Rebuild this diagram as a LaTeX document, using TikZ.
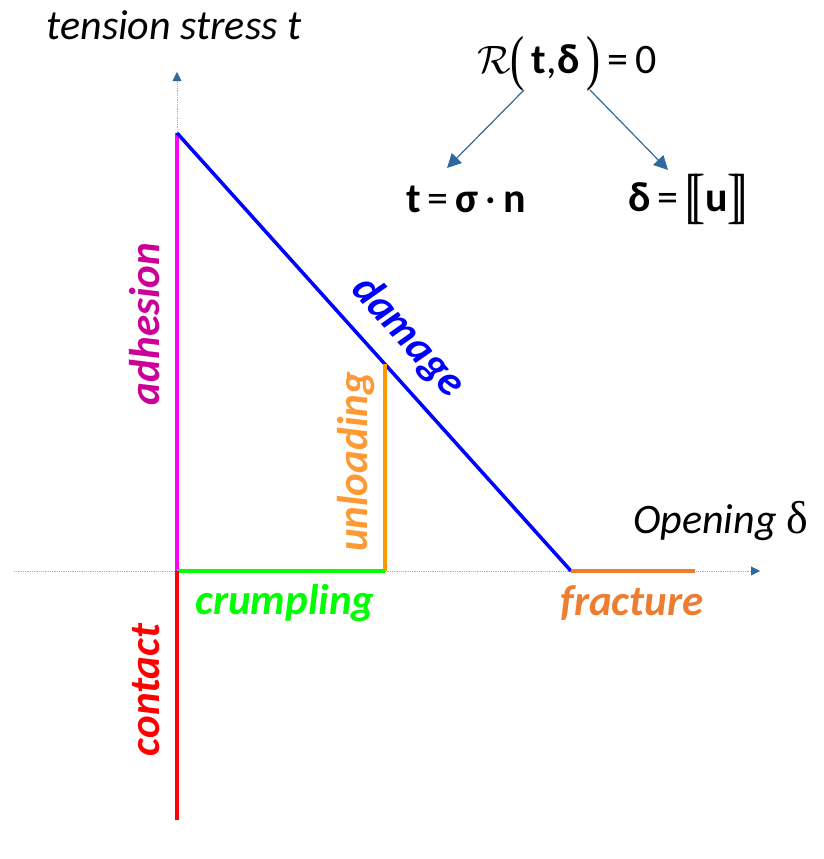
\documentclass[tikz,border=0pt]{standalone}
\usepackage{graphicx}
\usepackage{fontspec}
\setmainfont{Carlito}
\newfontfamily\delimfont{Liberation Serif}
\usetikzlibrary{arrows.meta}
\definecolor{axisline}{HTML}{9DB3CC}
\definecolor{axishead}{HTML}{2E6A9E}
\definecolor{adhline}{HTML}{FF00FF}
\definecolor{adhtext}{HTML}{CC0099}
\definecolor{dmg}{HTML}{0000FF}
\definecolor{unl}{HTML}{FF9900}
\definecolor{unltext}{HTML}{FF9933}
\definecolor{crm}{HTML}{00FF00}
\definecolor{frc}{HTML}{ED7D31}
\definecolor{cnt}{HTML}{FF0000}
\newcommand{\bt}[1]{{\bfseries\upshape #1}}
\newcommand{\bigpar}[1]{\raisebox{-0.12em}{\scalebox{1}[1.45]{\delimfont\relax #1}}}
\newcommand{\calR}{\scalebox{3.3}{\fontsize{12}{12}\selectfont$\mathcal{R}$}}
\tikzset{
  axis/.style={axisline, densely dotted, line width=0.8pt, -{Triangle[length=9pt,width=9pt,fill=axishead,color=axishead]}},
  seg/.style={line width=3.5pt},
  lbl/.style={font=\fontsize{43}{43}\selectfont\bfseries\itshape, inner sep=0pt},
  axlbl/.style={font=\fontsize{42}{42}\selectfont\itshape, inner sep=0pt},
  eq/.style={font=\fontsize{42}{42}\selectfont, inner sep=0pt},
  arr/.style={axishead, line width=1.2pt, -{Triangle[length=14pt,width=14pt]}}
}
\begin{document}
\begin{tikzpicture}[x=1pt,y=-1pt]
\useasboundingbox (0,0) rectangle (823,859);
\coordinate (O) at (177,571);
\coordinate (xs) at (14,571);
\coordinate (xe) at (760,571);
\coordinate (ye) at (177,72);
\coordinate (top) at (177,133);
\coordinate (br) at (571,571);
\coordinate (un) at (385,364);
\coordinate (unb) at (385,571);
\coordinate (fe) at (695,571);
\coordinate (cb) at (177,820);
\draw[axis] (xs) -- (xe);
\draw[axis] (O) -- (ye);
\draw[seg, adhline] (O) -- (top);
\draw[seg, dmg] (top) -- (br);
\draw[seg, unl] (un) -- (unb);
\draw[seg, crm] (O) -- (unb);
\draw[seg, frc] (br) -- (fe);
\draw[seg, cnt] (O) -- (cb);
\node[axlbl] (ylab) at (174,25) {tension stress t};
\node[axlbl, anchor=east] (xlab) at (808,521) {Opening {\delimfont\upshape\fontsize{46}{46}\selectfont δ}};
\node[lbl, adhtext, rotate=90] (adh) at (145,324) {adhesion};
\node[lbl, dmg, rotate=-48] (dam) at (408,337) {damage};
\node[lbl, unltext, rotate=90] (unlo) at (356,462) {unloading};
\node[lbl, crm] (crum) at (285,603) {crumpling};
\node[lbl, frc] (frac) at (632,603) {fracture};
\node[lbl, cnt, rotate=90] (cont) at (146,690) {contact};
\node[eq] (R) at (567,64) {\calR\bigpar{(}\,\bt{t},\bt{δ}\,\bigpar{)}\,=\,0};
\node[eq] (tn) at (466,199) {\bt{t}\,=\,\bt{σ}\,·\,\bt{n}};
\node[eq] (du) at (688,199) {\bt{δ}\,=\,\bigpar{[\kern-0.2em[}\bt{u}\bigpar{]\kern-0.2em]}};
\draw[arr] (524,90) -- (447,168);
\draw[arr] (590,90) -- (668,170);
\end{tikzpicture}
\end{document}
